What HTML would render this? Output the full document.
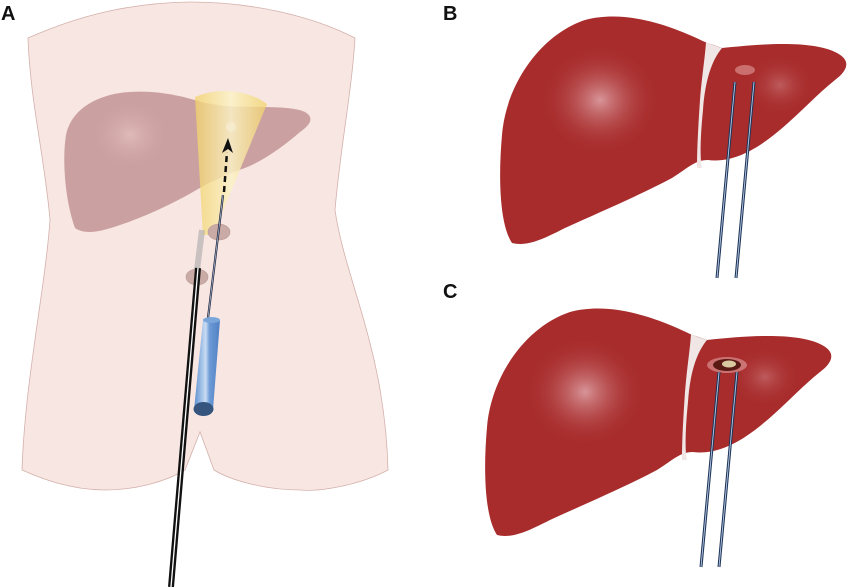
<!DOCTYPE html>
<html><head><meta charset="utf-8"><style>
html,body{margin:0;padding:0;background:#fff;}
svg{display:block}
</style></head><body>
<svg width="850" height="587" viewBox="0 0 850 587" xmlns="http://www.w3.org/2000/svg">
<defs>
<radialGradient id="hl" cx="0.5" cy="0.5" r="0.5">
<stop offset="0" stop-color="#e0a8ac" stop-opacity="0.85"/>
<stop offset="1" stop-color="#a92c2c" stop-opacity="0"/>
</radialGradient>
<radialGradient id="hlA" cx="0.5" cy="0.5" r="0.5">
<stop offset="0" stop-color="#e4c0c0" stop-opacity="0.8"/>
<stop offset="1" stop-color="#c99a9a" stop-opacity="0"/>
</radialGradient>
<linearGradient id="cyl" x1="0" x2="1">
<stop offset="0" stop-color="#5b8fd0"/><stop offset="0.45" stop-color="#c9dcf3"/><stop offset="0.6" stop-color="#6c9ad6"/><stop offset="1" stop-color="#4f80c2"/>
</linearGradient>
<linearGradient id="cone" x1="0" x2="1">
<stop offset="0" stop-color="#f2d36a" stop-opacity="0.75"/><stop offset="0.5" stop-color="#fbf2c8" stop-opacity="0.85"/><stop offset="1" stop-color="#f2d36a" stop-opacity="0.75"/>
</linearGradient>
<path id="liver" d="M512,243 C500,225 498,180 502,135 C506,85 540,35 585,20 C630,8 680,30 705,42 L722,48 C760,44 810,40 835,52 C852,60 848,70 835,80 C810,100 790,125 760,145 C740,158 722,162 708,160 C695,160 688,168 672,178 C640,195 600,212 565,228 C545,238 528,247 512,243 Z"/>
<clipPath id="lc"><use href="#liver"/></clipPath>
</defs>
<!-- Panel A body -->
<path d="M28,38 C80,15 130,3 190,2 C250,2 310,15 355,38 C352,90 340,150 335,210 C345,280 385,350 388,470 C360,485 320,492 300,490 C265,490 230,480 214,470 L200,432 L185,470 C165,482 135,490 105,490 C70,490 40,478 22,470 C25,380 45,290 50,220 C45,160 30,100 28,38 Z" fill="#f7e6e2" stroke="#d4b0ab" stroke-width="0.8"/>
<!-- Liver A -->
<path d="M75,228 C65,200 62,160 66,135 C72,105 105,93 130,92 C160,90 185,97 205,103 L225,106 C255,108 290,105 305,112 C315,118 310,125 300,132 C285,145 265,160 245,168 C232,172 220,178 205,185 C180,200 150,215 120,225 C100,232 85,235 75,228 Z" fill="#cba0a0"/>
<ellipse cx="130" cy="135" rx="45" ry="40" fill="url(#hlA)"/>
<!-- cone -->
<path d="M195,97 C215,88 245,88 267,104 L213,235 L203,235 Z" fill="url(#cone)"/>
<circle cx="231" cy="127" r="5" fill="#f5ecd0" opacity="0.8"/>
<!-- gray ports -->
<ellipse cx="219" cy="232" rx="11" ry="8" fill="#c9aaa5" stroke="#b59a95" stroke-width="0.6"/>
<ellipse cx="197" cy="277" rx="11" ry="8" fill="#c9aaa5" stroke="#b59a95" stroke-width="0.6"/>
<!-- black laparoscope -->
<line x1="202" y1="230" x2="197" y2="270" stroke="#aaa" stroke-width="6" opacity="0.6"/>
<line x1="198" y1="268" x2="171" y2="587" stroke="#111" stroke-width="6"/>
<line x1="198" y1="268" x2="171" y2="587" stroke="#fff" stroke-width="1.3"/>
<!-- needle -->
<line x1="223" y1="195" x2="208" y2="318" stroke="#223" stroke-width="2.2"/>
<line x1="223" y1="195" x2="208" y2="318" stroke="#9fb6d6" stroke-width="0.8"/>
<!-- dashed arrow -->
<line x1="224" y1="192" x2="227" y2="152" stroke="#111" stroke-width="2.5" stroke-dasharray="6,4"/>
<path d="M228,138 L222,153 L228,149 L233,153 Z" fill="#111"/>
<!-- blue cylinder -->
<path d="M203,320 L220,320 L213,410 L194,410 Z" fill="url(#cyl)"/>
<ellipse cx="211.5" cy="320" rx="8.5" ry="3" fill="#7aa6dc"/>
<ellipse cx="203.5" cy="409" rx="10" ry="7" fill="#35557f"/>
<!-- Liver B -->
<g>
<use href="#liver" fill="#a82c2c"/>
<g clip-path="url(#lc)">
<ellipse cx="600" cy="100" rx="60" ry="55" fill="url(#hl)"/>
<ellipse cx="780" cy="85" rx="35" ry="30" fill="url(#hl)" opacity="0.45"/>
</g>
<path d="M706,42 C712,45 722,48 722,48 C712,60 705,80 703,110 C700,140 700,160 702,168 L697,168 C697,150 698,130 700,100 C702,75 705,58 706,42 Z" fill="#f0e6e6"/>
</g>
<ellipse cx="745" cy="70" rx="10" ry="5" fill="#d98a8a" opacity="0.7"/>
<g stroke-linecap="butt">
<line x1="735" y1="82" x2="717" y2="278" stroke="#1e3458" stroke-width="3"/>
<line x1="735" y1="82" x2="717" y2="278" stroke="#b9cbe6" stroke-width="0.9"/>
<line x1="754" y1="82" x2="736" y2="278" stroke="#1e3458" stroke-width="3"/>
<line x1="754" y1="82" x2="736" y2="278" stroke="#b9cbe6" stroke-width="0.9"/>
</g>
<!-- Liver C -->
<g transform="translate(-15,292)">
<use href="#liver" fill="#a82c2c"/>
<g clip-path="url(#lc)">
<ellipse cx="600" cy="100" rx="60" ry="55" fill="url(#hl)"/>
<ellipse cx="780" cy="85" rx="35" ry="30" fill="url(#hl)" opacity="0.45"/>
</g>
<path d="M706,42 C712,45 722,48 722,48 C712,60 705,80 703,110 C700,140 700,160 702,168 L697,168 C697,150 698,130 700,100 C702,75 705,58 706,42 Z" fill="#f0e6e6"/>
</g>
<ellipse cx="727" cy="365" rx="20" ry="8" fill="#e2a0a0" opacity="0.6"/>
<ellipse cx="727" cy="365" rx="14" ry="6" fill="#5a1a14"/>
<ellipse cx="729" cy="364" rx="7" ry="3.5" fill="#d8c9a0"/>
<line x1="719" y1="372" x2="701" y2="567" stroke="#1e3458" stroke-width="3"/>
<line x1="719" y1="372" x2="701" y2="567" stroke="#b9cbe6" stroke-width="0.9"/>
<line x1="737" y1="372" x2="719" y2="567" stroke="#1e3458" stroke-width="3"/>
<line x1="737" y1="372" x2="719" y2="567" stroke="#b9cbe6" stroke-width="0.9"/>
<!-- labels -->
<text x="1" y="20" font-family="Liberation Sans, sans-serif" font-weight="bold" font-size="20" fill="#111">A</text>
<text x="443" y="20" font-family="Liberation Sans, sans-serif" font-weight="bold" font-size="20" fill="#111">B</text>
<text x="443" y="298" font-family="Liberation Sans, sans-serif" font-weight="bold" font-size="20" fill="#111">C</text>
</svg>
</body></html>
